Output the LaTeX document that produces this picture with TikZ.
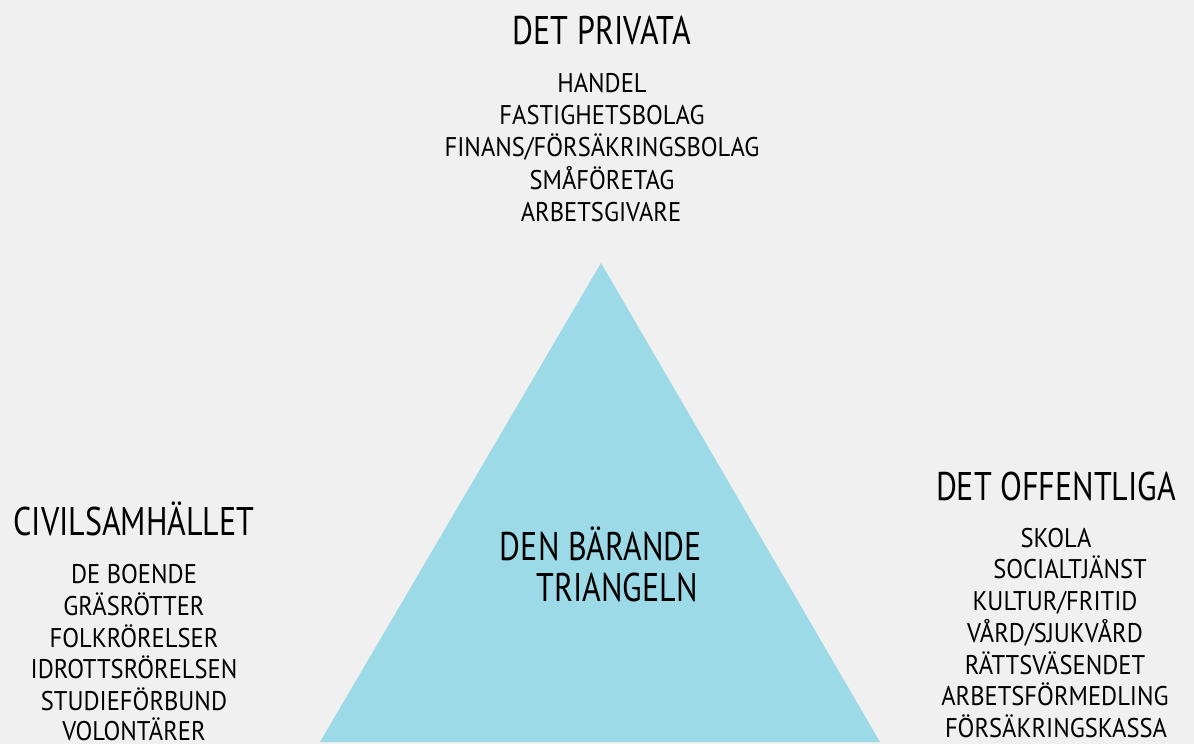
\documentclass[tikz,border=0pt]{standalone}
\usepackage{fontspec}
\setmainfont{PT Sans}
\newfontfamily\titlefont[FakeStretch=0.80]{PT Sans}
\newfontfamily\itemfont[FakeStretch=0.91]{PT Sans}
\definecolor{bg}{HTML}{F0F0F0}
\definecolor{tri}{HTML}{9BDAE6}
\begin{document}
\begin{tikzpicture}[x=1pt,y=-1pt,
  title/.style={inner sep=0pt,anchor=base,font=\titlefont\fontsize{40}{40}\selectfont},
  item/.style={inner sep=0pt,anchor=base,font=\itemfont\fontsize{27}{27}\selectfont}]
\fill[bg] (0,0) rectangle (1194,744);
\useasboundingbox (0,0) rectangle (1194,744);
\fill[tri] (601,263) -- (880,742) -- (320,742) -- cycle;
\node[title] (priv) at (602,44) {DET PRIVATA};
\node[item] (p1) at (602,92) {HANDEL};
\node[item] (p2) at (602,124) {FASTIGHETSBOLAG};
\node[item] (p3) at (602,156) {FINANS/FÖRSÄKRINGSBOLAG};
\node[item] (p4) at (602,189) {SMÅFÖRETAG};
\node[item] (p5) at (601,221) {ARBETSGIVARE};
\node[title] (civ) at (134,535) {CIVILSAMHÄLLET};
\node[item] (c1) at (134,583) {DE BOENDE};
\node[item] (c2) at (134,615) {GRÄSRÖTTER};
\node[item] (c3) at (134,647) {FOLKRÖRELSER};
\node[item] (c4) at (134,678) {IDROTTSRÖRELSEN};
\node[item] (c5) at (134,710) {STUDIEFÖRBUND};
\node[item] (c6) at (134,740) {VOLONTÄRER};
\node[title] (off) at (1056,500) {DET OFFENTLIGA};
\node[item] (o1) at (1056,547) {SKOLA};
\node[item] (o2) at (1070,578) {SOCIALTJÄNST};
\node[item] (o3) at (1055,610) {KULTUR/FRITID};
\node[item] (o4) at (1055,642) {VÅRD/SJUKVÅRD};
\node[item] (o5) at (1055,674) {RÄTTSVÄSENDET};
\node[item] (o6) at (1055,705) {ARBETSFÖRMEDLING};
\node[item] (o7) at (1056,737) {FÖRSÄKRINGSKASSA};
\node[title] (t1) at (601,560) {DEN BÄRANDE};
\node[title] (t2) at (617,601) {TRIANGELN};
\end{tikzpicture}
\end{document}
